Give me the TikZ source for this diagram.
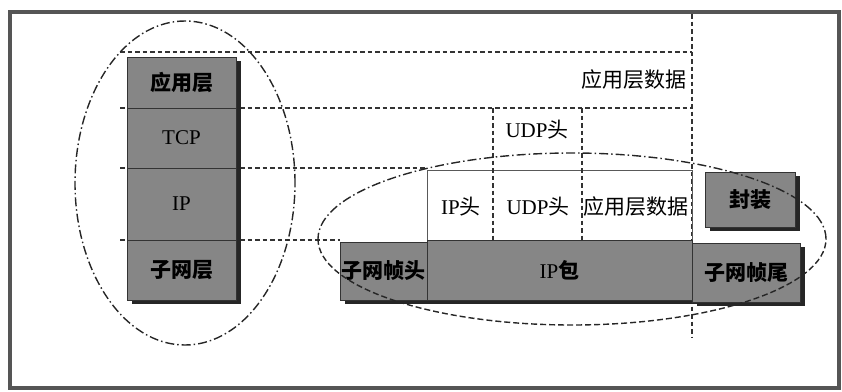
\documentclass[tikz,border=0pt]{standalone}
\usepackage{fontspec}
\setmainfont{Liberation Serif}
\newfontfamily\cjk{Noto Sans CJK SC}
\usetikzlibrary{shadows}
\definecolor{boxgray}{RGB}{134,134,134}
\definecolor{framegray}{RGB}{85,85,85}
\begin{document}
\begin{tikzpicture}[x=1pt,y=-1pt,
  gbox/.style={draw=black!80, line width=0.8pt, fill=boxgray, inner sep=0pt,
    font=\fontsize{21}{21}\selectfont,
    drop shadow={shadow xshift=5pt, shadow yshift=-4pt, fill=black!85, opacity=1}},
  lbl/.style={inner sep=1pt, font=\fontsize{21}{21}\selectfont},
  dl/.style={draw=black!80, line width=1.4pt, dash pattern=on 4.5pt off 3pt},
  dd/.style={draw=black!85, line width=1.4pt, dash pattern=on 9pt off 3pt on 1.5pt off 3pt},
  ds/.style={draw=black!85, line width=1.4pt, dash pattern=on 6pt off 3pt}]
\useasboundingbox (0,0) rectangle (842,391);
% frame
\coordinate (f1) at (10,12);
\coordinate (f2) at (839,388);
\draw[framegray, line width=3.5pt] (f1) rectangle (f2);
% dashed guide lines
\coordinate (h1l) at (120,52);  \coordinate (h1r) at (692,52);
\coordinate (h2l) at (120,108); \coordinate (h2r) at (692,108);
\coordinate (h3l) at (120,168); \coordinate (h3r) at (427,168);
\coordinate (h4l) at (120,240); \coordinate (h4r) at (340,240);
\coordinate (vt) at (692,14);   \coordinate (vb) at (692,338);
\coordinate (v1t) at (493,108); \coordinate (v1b) at (493,240);
\coordinate (v2t) at (582,108); \coordinate (v2b) at (582,240);
\draw[dl] (h1l) -- (h1r);
\draw[dl] (h2l) -- (h2r);
\draw[dl] (h3l) -- (h3r);
\draw[dl] (h4l) -- (h4r);
\draw[dl] (vt) -- (vb);
% white packet box
\coordinate (wb1) at (427,170);
\coordinate (wb2) at (692,240);
\draw[black!65, line width=1pt] (wb1) rectangle (wb2);
\draw[dl] (v1t) -- (v1b);
\draw[dl] (v2t) -- (v2b);
% left stack
\node[gbox, minimum width=109pt, minimum height=51pt] (app) at (181.5,82.5) {\cjk\bfseries 应用层};
\node[gbox, minimum width=109pt, minimum height=60pt] (tcp) at (181.5,138) {TCP};
\node[gbox, minimum width=109pt, minimum height=72pt] (ip) at (181.5,204) {IP};
\node[gbox, minimum width=109pt, minimum height=60pt] (sub) at (181.5,270) {\cjk\bfseries 子网层};
% bottom row
\node[gbox, minimum width=87pt, minimum height=58pt] (fh) at (383.5,271) {\cjk\bfseries 子网帧头};
\node[gbox, minimum width=265pt, minimum height=60pt] (ippk) at (559.5,270) {IP{\cjk\bfseries 包}};
\node[gbox, minimum width=108pt, minimum height=59pt] (ft) at (746,272.5) {\cjk\bfseries 子网帧尾};
\node[gbox, minimum width=90pt, minimum height=55pt] (enc) at (750,199.5) {\cjk\bfseries 封装};
% labels
\node[lbl, anchor=east] (appdata) at (688,80) {\cjk 应用层数据};
\node[lbl] (udp1) at (537,130) {UDP{\cjk 头}};
\node[lbl] (iph) at (461,207) {IP{\cjk 头}};
\node[lbl] (udp2) at (538,207) {UDP{\cjk 头}};
\node[lbl] (appd2) at (636,207) {\cjk 应用层数据};
% ellipses
\coordinate (e1) at (185,183);
\coordinate (e2) at (572,239);
\draw[dd] (e1) ellipse [x radius=110pt, y radius=162pt];
\begin{scope}
  \clip (300,140) rectangle (840,239);
  \draw[dd] (e2) ellipse [x radius=254pt, y radius=86pt];
\end{scope}
\begin{scope}
  \clip (300,239) rectangle (840,340);
  \draw[ds] (e2) ellipse [x radius=254pt, y radius=86pt];
\end{scope}
\end{tikzpicture}
\end{document}
